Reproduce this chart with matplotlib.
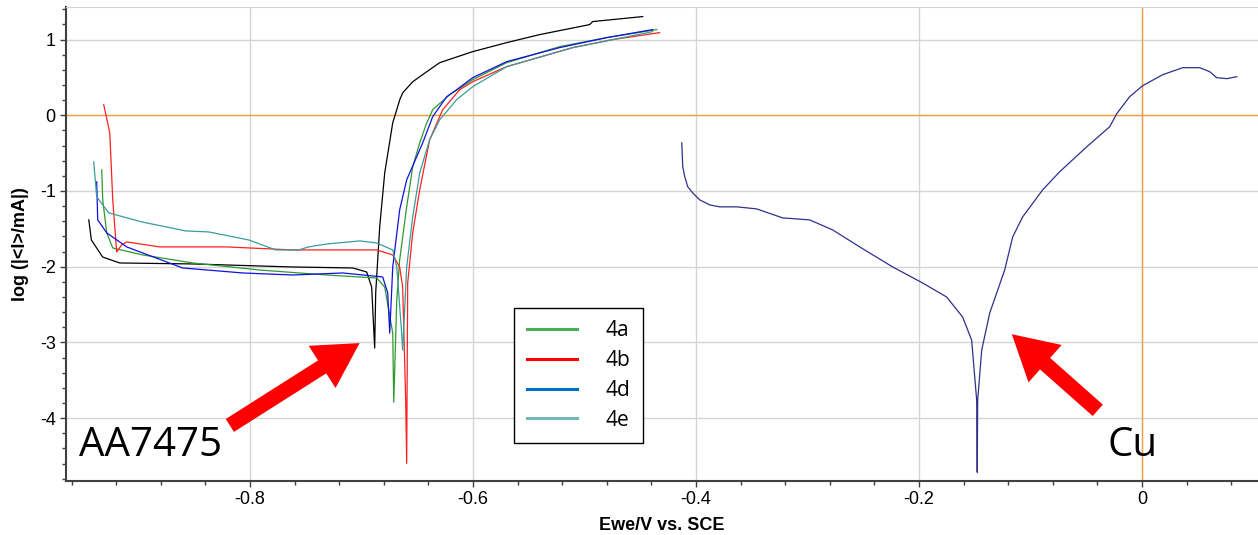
import matplotlib
matplotlib.use("Agg")
import matplotlib.pyplot as plt
import matplotlib.ticker as mticker
from matplotlib.lines import Line2D

# AA7475 samples (potential in V vs SCE, log|I/mA|)
v_black = [-0.9446, -0.9423, -0.9322, -0.9169, -0.8514, -0.7617, -0.7079, -0.6954, -0.6909, -0.6882,
           -0.6873, -0.6837, -0.6792, -0.6720, -0.6684, -0.6657, -0.6630, -0.6540, -0.6415, -0.6299,
           -0.6003, -0.5698, -0.5402, -0.4954, -0.4927, -0.4478]
i_black = [-1.382, -1.647, -1.872, -1.951, -1.964, -2.004, -2.017, -2.070, -2.269, -3.075,
           -2.348, -1.475, -0.761, -0.099, 0.073, 0.205, 0.298, 0.443, 0.575, 0.694,
           0.840, 0.959, 1.065, 1.197, 1.237, 1.303]

v_4a = [-0.9330, -0.9321, -0.9285, -0.9231, -0.8962, -0.8514, -0.7913, -0.7312, -0.6864, -0.6792,
        -0.6720, -0.6711, -0.6684, -0.6658, -0.6595, -0.6541, -0.6478, -0.6420, -0.6362, -0.6209,
        -0.6003, -0.5698, -0.5223, -0.4801, -0.4353]
i_4a = [-0.721, -1.118, -1.554, -1.753, -1.845, -1.951, -2.044, -2.110, -2.150, -2.269,
        -2.877, -3.790, -2.441, -1.911, -1.210, -0.681, -0.364, -0.120, 0.073, 0.271,
        0.470, 0.694, 0.906, 1.025, 1.131]

v_4b = [-0.9312, -0.9258, -0.9231, -0.9196, -0.9151, -0.9106, -0.8810, -0.8209, -0.7617, -0.6864,
        -0.6720, -0.6658, -0.6631, -0.6604, -0.6595, -0.6586, -0.6541, -0.6478, -0.6389, -0.6272,
        -0.6120, -0.6003, -0.5698, -0.5106, -0.4747, -0.4326]
i_4b = [0.139, -0.231, -1.118, -1.806, -1.713, -1.673, -1.739, -1.739, -1.779, -1.779,
        -1.845, -2.004, -2.269, -3.763, -4.597, -2.216, -1.554, -0.985, -0.324, 0.073,
        0.337, 0.443, 0.642, 0.893, 0.999, 1.091]

v_4d = [-0.9375, -0.9366, -0.9285, -0.9106, -0.8604, -0.8066, -0.7617, -0.7169, -0.6810, -0.6765,
        -0.6747, -0.6720, -0.6658, -0.6595, -0.6451, -0.6362, -0.6236, -0.6147, -0.6003, -0.5698,
        -0.5223, -0.4801, -0.4389]
i_4d = [-0.880, -1.382, -1.554, -1.739, -2.017, -2.083, -2.110, -2.083, -2.136, -2.348,
        -2.877, -2.004, -1.250, -0.853, -0.364, -0.020, 0.245, 0.337, 0.496, 0.708,
        0.893, 1.025, 1.131]

v_4e = [-0.9402, -0.9375, -0.9267, -0.8971, -0.8577, -0.8371, -0.8012, -0.7770, -0.7564, -0.7475,
        -0.7312, -0.7016, -0.6864, -0.6720, -0.6684, -0.6640, -0.6631, -0.6595, -0.6541, -0.6478,
        -0.6389, -0.6299, -0.6147, -0.6003, -0.5698, -0.5106, -0.4389]
i_4e = [-0.615, -1.078, -1.290, -1.409, -1.528, -1.541, -1.647, -1.779, -1.779, -1.739,
        -1.700, -1.660, -1.687, -1.779, -2.004, -2.877, -3.102, -2.004, -1.343, -0.761,
        -0.324, -0.060, 0.205, 0.377, 0.642, 0.893, 1.104]

# Cu reference
v_cu = [-0.4128, -0.4119, -0.4101, -0.4074, -0.4030, -0.3967, -0.3877, -0.3788, -0.3635, -0.3456,
        -0.3223, -0.2981, -0.2774, -0.2532, -0.2236, -0.1967, -0.1752, -0.1609, -0.1528, -0.1483,
        -0.1478, -0.1474, -0.1438, -0.1366, -0.1232, -0.1160, -0.1071, -0.0891, -0.0739, -0.0496,
        -0.0290, -0.0227, -0.0111, 0.0006, 0.0186, 0.0365, 0.0517, 0.0607, 0.0670, 0.0760,
        0.0850]
i_cu = [-0.364, -0.681, -0.813, -0.946, -1.025, -1.118, -1.184, -1.210, -1.210, -1.237,
        -1.356, -1.382, -1.515, -1.739, -2.004, -2.216, -2.401, -2.665, -2.970, -3.763,
        -4.716, -3.763, -3.102, -2.612, -2.044, -1.607, -1.343, -0.985, -0.747, -0.417,
        -0.152, 0.020, 0.245, 0.390, 0.536, 0.628, 0.628, 0.575, 0.496, 0.483,
        0.509]

legend_labels = ["4a", "4b", "4d", "4e"]
legend_colors = ["#4caf50", "#ff0000", "#0070c0", "#70b8b8"]

x_major = [-0.8, -0.6, -0.4, -0.2, 0.0]
x_labels = ["-0.8", "-0.6", "-0.4", "-0.2", "0"]
y_major = [1, 0, -1, -2, -3, -4]
y_labels = ["1", "0", "-1", "-2", "-3", "-4"]

narrow = ["Liberation Sans Narrow", "Liberation Sans", "DejaVu Sans"]

fig = plt.figure(figsize=(12.58, 5.35), dpi=100)
ax = fig.add_axes([0.0525, 0.101, 0.9475, 0.886])

ax.set_xlim(-0.965, 0.104)
ax.set_ylim(-4.83, 1.43)

# grid + orange zero lines
ax.grid(True, which="major", color="#d4d4d4", linewidth=1.0)
ax.set_axisbelow(True)
ax.axhline(0, color="#f5a040", linewidth=1.0, zorder=1.5)
ax.axvline(0, color="#f5a040", linewidth=1.0, zorder=1.5)

# curves
ax.plot(v_black, i_black, color="black", linewidth=0.9)
ax.plot(v_4a, i_4a, color="#2e9a2e", linewidth=0.9)
ax.plot(v_4b, i_4b, color="#ff2020", linewidth=0.9)
ax.plot(v_4d, i_4d, color="#1010e0", linewidth=0.9)
ax.plot(v_4e, i_4e, color="#3a9c9c", linewidth=0.9)
ax.plot(v_cu, i_cu, color="#30308a", linewidth=0.9)

# ticks
ax.set_xticks(x_major)
ax.set_xticklabels(x_labels, family=narrow, fontsize=13)
ax.set_yticks(y_major)
ax.set_yticklabels(y_labels, family=narrow, fontsize=13)
ax.xaxis.set_minor_locator(mticker.MultipleLocator(0.04))
ax.yaxis.set_minor_locator(mticker.MultipleLocator(0.2))
ax.tick_params(which="both", direction="out", color="#404040")
ax.tick_params(which="major", length=4, width=1)
ax.tick_params(which="minor", length=3, width=1)

for s in ["left", "bottom"]:
    ax.spines[s].set_color("#404040")
    ax.spines[s].set_linewidth(1.5)
ax.spines["top"].set_color("#d4d4d4")
ax.spines["right"].set_visible(False)

ax.set_xlabel("Ewe/V vs. SCE", family=narrow, fontsize=13, fontweight="bold", labelpad=6)
ax.set_ylabel("log (|<I>/mA|)", family=narrow, fontsize=13, fontweight="bold", labelpad=8)

# legend with proxy lines
handles = [Line2D([], [], color=c, linewidth=2.2) for c in legend_colors]
leg = ax.legend(handles, legend_labels, loc="upper left", bbox_to_anchor=(0.376, 0.365),
                borderaxespad=0, frameon=True, fancybox=False, edgecolor="black", framealpha=1,
                prop={"family": "Open Sans", "size": 15}, handlelength=2.4, handletextpad=1.4,
                labelspacing=0.42, borderpad=0.6)
leg.get_frame().set_linewidth(1.0)

# annotations
ax.text(-0.953, -4.37, "AA7475", fontsize=29, family="Open Sans", ha="left", va="center")
ax.text(-0.031, -4.37, "Cu", fontsize=29, family="Open Sans", ha="left", va="center")

arrow_style = "simple,head_length=1.6,head_width=1.8,tail_width=0.55"
ax.annotate("", xy=(-0.7017, -3.009), xytext=(-0.8181, -4.097),
            arrowprops=dict(arrowstyle=arrow_style, mutation_scale=20, color="#ff0000",
                            shrinkA=0, shrinkB=0, linewidth=0))
ax.annotate("", xy=(-0.1168, -2.892), xytext=(-0.0397, -3.897),
            arrowprops=dict(arrowstyle=arrow_style, mutation_scale=20, color="#ff0000",
                            shrinkA=0, shrinkB=0, linewidth=0))

fig.savefig("out.png", dpi=100)
